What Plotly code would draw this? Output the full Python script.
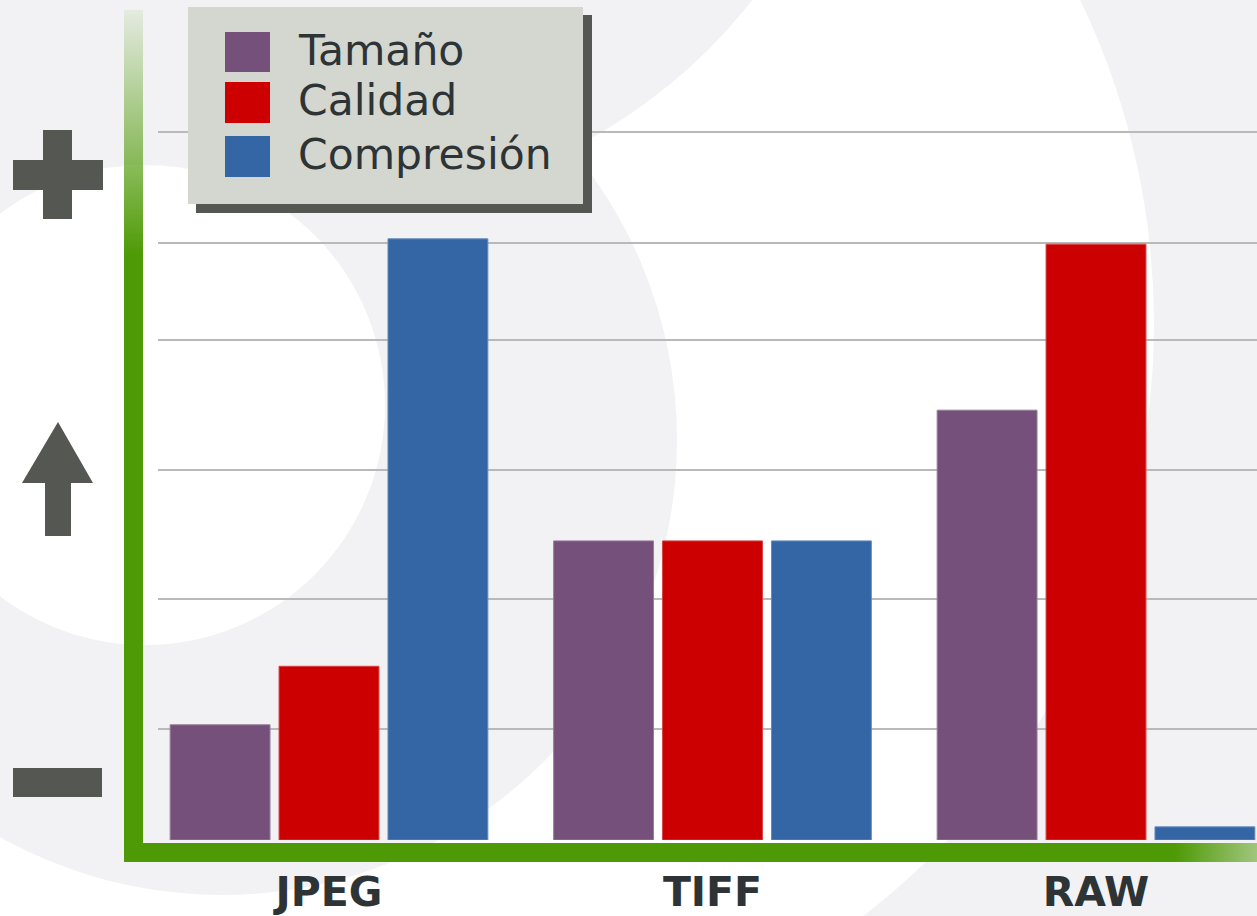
import plotly.graph_objects as go

# ---------------- data ----------------
categories = ["JPEG", "TIFF", "RAW"]
series_names = ["Tamaño", "Calidad", "Compresión"]
tamano = [19.3, 50.1, 72.0]
calidad = [29.1, 50.1, 99.8]
compresion = [100.7, 50.1, 2.2]
grid_levels = [18.6, 40.4, 62.0, 83.8, 100.0, 118.6]

series_values = [tamano, calidad, compresion]
colors = ["#75507b", "#cc0000", "#3465a4"]

# ---------------- geometry helpers (pixel -> paper) ----------------
W, H = 1257, 916
ML, MR, MT, MB = 158, 0, 0, 76
PW, PH = W - ML - MR, H - MT - MB


def px(x):
    return (x - ML) / PW


def py(y):
    return (H - MB - y) / PH


def rect(x0, y0, x1, y1, color, layer="above"):
    return dict(type="rect", xref="paper", yref="paper",
                x0=px(x0), x1=px(x1), y0=py(y1), y1=py(y0),
                fillcolor=color, line=dict(width=0), layer=layer)


def circ(cx, cy, r, color):
    return dict(type="circle", xref="paper", yref="paper",
                x0=px(cx - r), x1=px(cx + r), y0=py(cy + r), y1=py(cy - r),
                fillcolor=color, line=dict(width=0), layer="below")


def blend(fg, bg, a):
    f = [int(fg[i:i + 2], 16) for i in (1, 3, 5)]
    b = [int(bg[i:i + 2], 16) for i in (1, 3, 5)]
    c = [round(a * f[k] + (1 - a) * b[k]) for k in range(3)]
    return "#%02x%02x%02x" % tuple(c)


fig = go.Figure()
for name, vals, col in zip(series_names, series_values, colors):
    fig.add_trace(go.Bar(name=name, x=categories, y=vals,
                         marker=dict(color=col, line=dict(width=1, color=blend(col, "#ffffff", 0.75))),
                         showlegend=False, hoverinfo="skip"))

shapes = []
GRAY = "#f2f2f4"
WHITE = "#ffffff"
# decorative background
shapes.append(circ(406, 324, 748, WHITE))
shapes.append(circ(222, 440, 455, GRAY))
shapes.append(circ(330, -330, 536, GRAY))
shapes.append(circ(145, 405, 240, WHITE))

DARK = "#555753"
# plus sign
shapes.append(rect(43, 130, 72, 219, DARK))
shapes.append(rect(13, 160, 103, 190, DARK))
# up arrow
pts = [(58, 422), (93, 483), (71, 483), (71, 536), (45, 536), (45, 483), (22, 483)]
path = "M " + " L ".join(f"{px(a):.5f},{py(b):.5f}" for a, b in pts) + " Z"
shapes.append(dict(type="path", xref="paper", yref="paper", path=path,
                   fillcolor=DARK, line=dict(width=0), layer="above"))
# minus
shapes.append(rect(13, 768, 102, 797, DARK))

GREEN = "#4e9a06"
# left axis: gradient on top part (opaque blended strips, slightly overlapping)
top, full = 10, 255
n = full - top
for i in range(n):
    y0 = top + i
    a = 0.08 + 0.92 * (i + 0.5) / n
    bg = GRAY if y0 < 165 else WHITE
    shapes.append(rect(124, y0, 143, y0 + 1.6, blend(GREEN, bg, a)))
shapes.append(rect(124, full, 143, 862, GREEN))
# bottom axis: gradient on right end
gx0, gx1 = 1175, 1257
shapes.append(rect(124, 843, gx0 + 1, 862, GREEN))
m = gx1 - gx0
for i in range(m):
    x0 = gx0 + i
    a = 1.0 - 0.5 * (i + 0.5) / m
    shapes.append(rect(x0, 843, x0 + 1.6, 862, blend(GREEN, GRAY, a)))

# legend box with shadow
shapes.append(rect(196, 15, 592, 213, DARK))
shapes.append(rect(188, 7, 583, 204, "#d3d7cf"))
sw_rows = [(32, 72), (82, 123), (136, 177)]
annotations = []
for (y0, y1), col, name in zip(sw_rows, colors, series_names):
    shapes.append(rect(225, y0, 270, y1, col))
    annotations.append(dict(xref="paper", yref="paper", x=px(296), y=py((y0 + y1) / 2 - 2),
                            xanchor="left", yanchor="middle", showarrow=False, text=name,
                            font=dict(family="DejaVu Sans", size=42.5, color="#2e3436")))

# x range so that group centres sit where they do in the picture
c0, step = 329.0, 383.5
xr = [(ML - c0) / step, (W - MR - c0) / step]
ppu = (840 - 243) / 100.0
yr = [0, (840 - MT) / ppu]

fig.update_layout(
    width=W, height=H, autosize=False,
    margin=dict(l=ML, r=MR, t=MT, b=MB, pad=0),
    paper_bgcolor=GRAY, plot_bgcolor="rgba(0,0,0,0)",
    barmode="group", bargap=0.148, bargroupgap=0.083,
    shapes=shapes, annotations=annotations,
    xaxis=dict(range=xr, showgrid=False, zeroline=False, showline=False, ticks="",
               tickfont=dict(family="DejaVu Sans", size=41, color="#2e3436", weight="bold"),
               ticklabelstandoff=24, fixedrange=True),
    yaxis=dict(range=yr, tickvals=grid_levels, showticklabels=False, showgrid=True,
               gridcolor="#b9b9b9", gridwidth=1.5, zeroline=False, showline=False, fixedrange=True),
    showlegend=False,
)

fig.write_html("out.html", config={"displayModeBar": False},
               post_script="document.body.style.margin='0';document.body.style.background='#f2f2f4';")
